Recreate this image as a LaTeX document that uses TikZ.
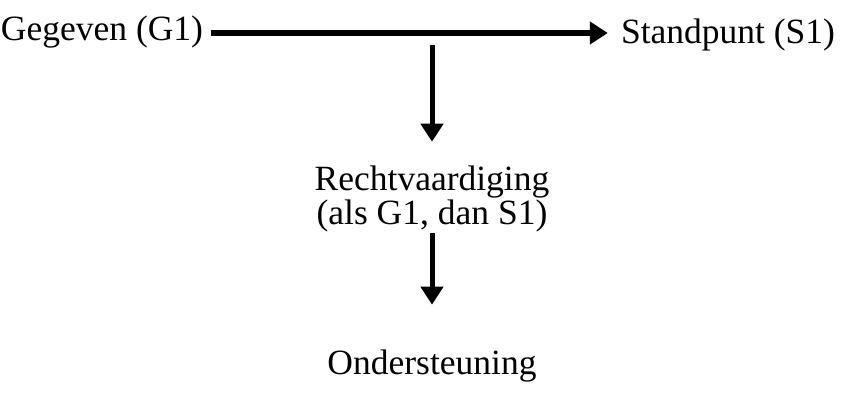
\documentclass[tikz,border=0pt]{standalone}
\usepackage{fontspec}
\setmainfont{Liberation Serif}
\usetikzlibrary{arrows.meta, positioning}

\begin{document}
\begin{tikzpicture}[
        x=1pt, y=1pt,
        label/.style={font=\fontsize{35.5}{34}\selectfont, inner sep=0pt, align=center},
        thick arrow/.style={line width=5pt, -{Triangle[length=18pt, width=22pt]}}
        ]
            \useasboundingbox (0,0) rectangle (845,392);
            \node[label] (GIVEN) at (102,360) {Gegeven (G1)};
            \node[label] (CLAIM) at (728,357) {Standpunt (S1)};
            \node[label] (WARRANT) at (432,193) {Rechtvaardiging\\(als G1, dan S1)};
            \node[label] (BACKING) at (432,26) {Ondersteuning};
            \coordinate (SPLIT) at (432,347);

            \draw[thick arrow] ([xshift=8pt]GIVEN.east |- 0,359) -- ([xshift=-13pt]CLAIM.west |- 0,359);
            \draw[thick arrow, shorten >=24pt] (SPLIT) -- (WARRANT.north);
            \draw[thick arrow, shorten <=1pt, shorten >=45pt] (WARRANT.south) -- (BACKING.north);
        \end{tikzpicture}
\end{document}
